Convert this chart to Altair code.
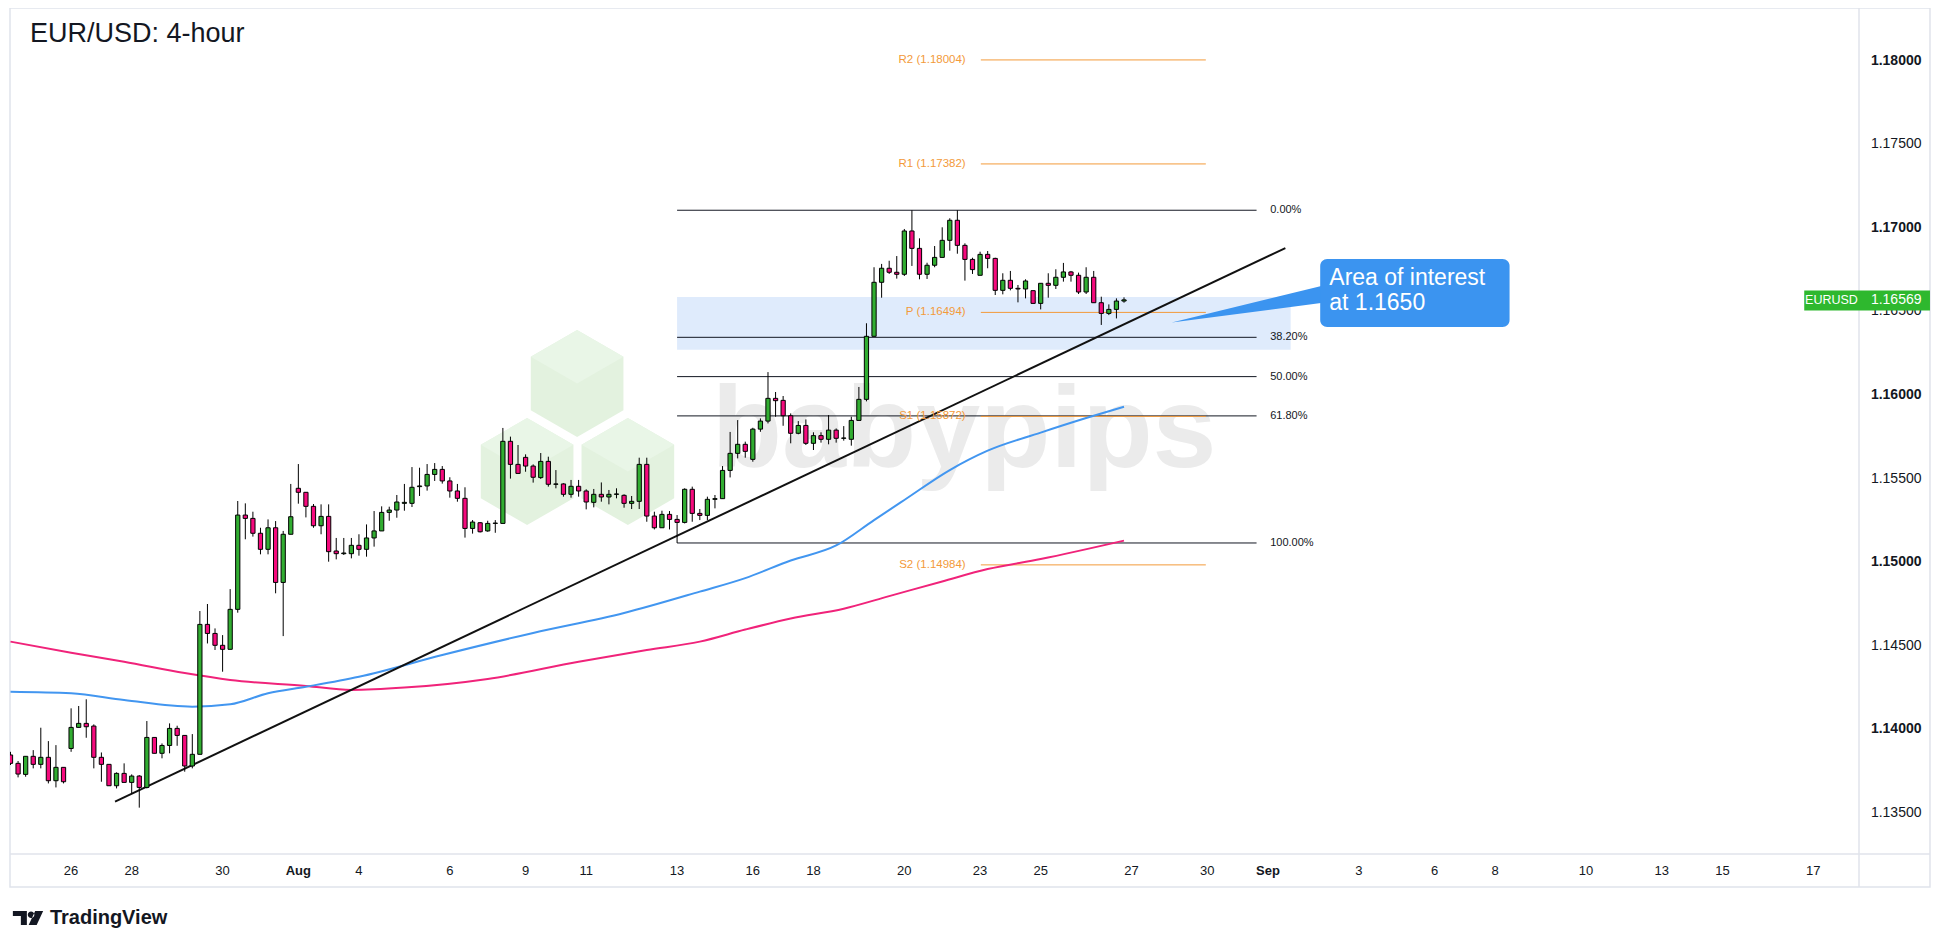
import altair as alt
import pandas as pd

# ---------------- candle data (EUR/USD 4-hour, oldest first) ----------------
opens = [
    1.13847, 1.13797, 1.13731, 1.13839, 1.13791, 1.13833, 1.13693, 1.13773, 1.13886, 1.14012,
    1.14036, 1.14020, 1.13833, 1.13791, 1.13663, 1.13737, 1.13683, 1.13721, 1.13653, 1.13952,
    1.13857, 1.13904, 1.14006, 1.13964, 1.13781, 1.13851, 1.14628, 1.14574, 1.14503, 1.14479,
    1.14718, 1.15282, 1.15262, 1.15173, 1.15077, 1.15206, 1.14879, 1.15167, 1.15442, 1.15418,
    1.15334, 1.15218, 1.15274, 1.15067, 1.15051, 1.15051, 1.15101, 1.15077, 1.15145, 1.15187,
    1.15298, 1.15312, 1.15352, 1.15352, 1.15452, 1.15456, 1.15525, 1.15555, 1.15486, 1.15426,
    1.15382, 1.15202, 1.15236, 1.15187, 1.15232, 1.15232, 1.15723, 1.15585, 1.15627, 1.15575,
    1.15506, 1.15603, 1.15466, 1.15468, 1.15406, 1.15454, 1.15426, 1.15358, 1.15406, 1.15390,
    1.15406, 1.15400, 1.15352, 1.15364, 1.15585, 1.15276, 1.15206, 1.15286, 1.15256, 1.15238,
    1.15436, 1.15292, 1.15280, 1.15376, 1.15380, 1.15549, 1.15651, 1.15705, 1.15615, 1.15796,
    1.15844, 1.15980, 1.15968, 1.15876, 1.15771, 1.15818, 1.15711, 1.15757, 1.15735, 1.15790,
    1.15741, 1.15735, 1.15848, 1.15974, 1.16351, 1.16674, 1.16758, 1.16734, 1.16722, 1.16981,
    1.16877, 1.16722, 1.16776, 1.16823, 1.16925, 1.17045, 1.16895, 1.16811, 1.16716, 1.16841,
    1.16817, 1.16626, 1.16686, 1.16638, 1.16634, 1.16624, 1.16548, 1.16668, 1.16656, 1.16704,
    1.16736, 1.16716, 1.16616, 1.16704, 1.16552, 1.16488, 1.16512, 1.16562]
highs = [
    1.13866, 1.13811, 1.13839, 1.13876, 1.14010, 1.13930, 1.13906, 1.13773, 1.14126, 1.14140,
    1.14180, 1.14030, 1.13862, 1.13791, 1.13743, 1.13797, 1.13731, 1.13727, 1.14050, 1.13952,
    1.13916, 1.14036, 1.14022, 1.13964, 1.13972, 1.14708, 1.14750, 1.14604, 1.14564, 1.14839,
    1.15366, 1.15352, 1.15302, 1.15206, 1.15256, 1.15246, 1.15187, 1.15468, 1.15587, 1.15418,
    1.15348, 1.15346, 1.15346, 1.15145, 1.15145, 1.15145, 1.15167, 1.15226, 1.15306, 1.15334,
    1.15332, 1.15402, 1.15468, 1.15569, 1.15565, 1.15587, 1.15593, 1.15575, 1.15508, 1.15468,
    1.15448, 1.15252, 1.15240, 1.15248, 1.15252, 1.15803, 1.15751, 1.15701, 1.15645, 1.15585,
    1.15653, 1.15631, 1.15551, 1.15472, 1.15492, 1.15492, 1.15436, 1.15438, 1.15477, 1.15432,
    1.15442, 1.15406, 1.15396, 1.15625, 1.15625, 1.15302, 1.15308, 1.15306, 1.15282, 1.15442,
    1.15452, 1.15318, 1.15392, 1.15402, 1.15575, 1.15779, 1.15850, 1.15721, 1.15804, 1.15860,
    1.16137, 1.16018, 1.15994, 1.15890, 1.15844, 1.15854, 1.15777, 1.15777, 1.15880, 1.15800,
    1.15814, 1.15870, 1.16048, 1.16429, 1.16764, 1.16784, 1.16803, 1.16831, 1.16993, 1.17105,
    1.16937, 1.16791, 1.16891, 1.17003, 1.17057, 1.17105, 1.16907, 1.16821, 1.16857, 1.16861,
    1.16821, 1.16728, 1.16742, 1.16658, 1.16692, 1.16624, 1.16668, 1.16728, 1.16752, 1.16790,
    1.16742, 1.16732, 1.16764, 1.16742, 1.16588, 1.16542, 1.16578, 1.16584]
lows = [
    1.13787, 1.13713, 1.13717, 1.13767, 1.13767, 1.13677, 1.13653, 1.13677, 1.13866, 1.14012,
    1.13950, 1.13767, 1.13687, 1.13663, 1.13647, 1.13683, 1.13617, 1.13532, 1.13647, 1.13857,
    1.13827, 1.13857, 1.13902, 1.13747, 1.13767, 1.13851, 1.14514, 1.14475, 1.14345, 1.14479,
    1.14698, 1.15137, 1.15153, 1.15047, 1.15047, 1.14814, 1.14558, 1.15167, 1.15350, 1.15268,
    1.15206, 1.15167, 1.15003, 1.15017, 1.15043, 1.15023, 1.15039, 1.15033, 1.15093, 1.15187,
    1.15248, 1.15266, 1.15308, 1.15330, 1.15396, 1.15428, 1.15486, 1.15470, 1.15386, 1.15362,
    1.15147, 1.15171, 1.15178, 1.15182, 1.15176, 1.15232, 1.15500, 1.15531, 1.15541, 1.15476,
    1.15498, 1.15452, 1.15442, 1.15392, 1.15386, 1.15392, 1.15316, 1.15328, 1.15362, 1.15346,
    1.15382, 1.15326, 1.15318, 1.15318, 1.15242, 1.15196, 1.15206, 1.15196, 1.15115, 1.15232,
    1.15242, 1.15252, 1.15252, 1.15322, 1.15380, 1.15507, 1.15621, 1.15625, 1.15601, 1.15780,
    1.15830, 1.15870, 1.15816, 1.15711, 1.15765, 1.15701, 1.15671, 1.15715, 1.15705, 1.15715,
    1.15727, 1.15697, 1.15848, 1.15962, 1.16351, 1.16582, 1.16724, 1.16696, 1.16712, 1.16772,
    1.16692, 1.16694, 1.16764, 1.16823, 1.16863, 1.16845, 1.16684, 1.16724, 1.16716, 1.16758,
    1.16598, 1.16602, 1.16626, 1.16554, 1.16578, 1.16548, 1.16512, 1.16582, 1.16634, 1.16678,
    1.16678, 1.16604, 1.16604, 1.16552, 1.16419, 1.16478, 1.16458, 1.16552]
closes = [
    1.13797, 1.13733, 1.13839, 1.13791, 1.13833, 1.13693, 1.13773, 1.13687, 1.14012, 1.14036,
    1.14016, 1.13833, 1.13791, 1.13663, 1.13737, 1.13683, 1.13721, 1.13653, 1.13952, 1.13857,
    1.13904, 1.14006, 1.13964, 1.13781, 1.13851, 1.14628, 1.14574, 1.14503, 1.14479, 1.14718,
    1.15282, 1.15262, 1.15173, 1.15077, 1.15206, 1.14879, 1.15167, 1.15272, 1.15418, 1.15334,
    1.15218, 1.15274, 1.15063, 1.15051, 1.15055, 1.15101, 1.15077, 1.15145, 1.15187, 1.15298,
    1.15312, 1.15360, 1.15358, 1.15448, 1.15456, 1.15525, 1.15555, 1.15486, 1.15426, 1.15382,
    1.15202, 1.15240, 1.15182, 1.15232, 1.15234, 1.15723, 1.15585, 1.15531, 1.15575, 1.15508,
    1.15603, 1.15466, 1.15468, 1.15406, 1.15454, 1.15426, 1.15360, 1.15406, 1.15390, 1.15406,
    1.15408, 1.15352, 1.15364, 1.15585, 1.15276, 1.15206, 1.15286, 1.15256, 1.15238, 1.15436,
    1.15292, 1.15280, 1.15376, 1.15380, 1.15549, 1.15651, 1.15705, 1.15663, 1.15796, 1.15844,
    1.15980, 1.15966, 1.15876, 1.15771, 1.15818, 1.15711, 1.15757, 1.15735, 1.15790, 1.15741,
    1.15743, 1.15848, 1.15974, 1.16351, 1.16674, 1.16758, 1.16734, 1.16722, 1.16981, 1.16877,
    1.16722, 1.16776, 1.16823, 1.16925, 1.17045, 1.16895, 1.16811, 1.16750, 1.16841, 1.16817,
    1.16626, 1.16686, 1.16638, 1.16634, 1.16682, 1.16548, 1.16668, 1.16656, 1.16704, 1.16736,
    1.16716, 1.16616, 1.16704, 1.16552, 1.16488, 1.16512, 1.16562, 1.16569]

# moving averages (bar index, value)
ma_slow_k = [0, 8, 15, 23, 29, 39, 45, 52, 63, 75, 84, 91, 97, 103, 110, 116, 123, 129, 136, 147]
ma_slow_v = [1.14525, 1.14459, 1.14405, 1.14337, 1.14296, 1.14260, 1.14236, 1.14250, 1.14302, 1.14405,
             1.14475, 1.14525, 1.14597, 1.14663, 1.14722, 1.14797, 1.14885, 1.14959, 1.15019, 1.15129]
ma_fast_k = [0, 8, 15, 24, 29, 34, 39, 46, 57, 69, 81, 91, 97, 103, 109, 114, 118, 124, 129, 136, 142, 147]
ma_fast_v = [1.14225, 1.14216, 1.14176, 1.14136, 1.14150, 1.14216, 1.14255, 1.14315, 1.14445, 1.14577,
             1.14696, 1.14824, 1.14905, 1.15010, 1.15100, 1.15252, 1.15372, 1.15551, 1.15667, 1.15775,
             1.15862, 1.15930]

trend_k = [13.8, 168.3]
trend_v = [1.13568, 1.16879]

fib_levels = [1.17105, 1.16345, 1.16110, 1.15875, 1.15115]
fib_labels = ["0.00%", "38.20%", "50.00%", "61.80%", "100.00%"]
pivot_names = ["R2", "R1", "P", "S1", "S2"]
pivot_levels = [1.18004, 1.17382, 1.16494, 1.15872, 1.14984]
zone_levels = [1.16271, 1.16586]
last_price = 1.16569

date_pos = [8, 16, 28, 38, 46, 58, 68, 76, 88, 98, 106, 118, 128, 136, 148, 158, 166, 178, 188, 196, 208, 218, 226, 238]
date_labels = ["26", "28", "30", "Aug", "4", "6", "9", "11", "13", "16", "18", "20", "23", "25",
               "27", "30", "Sep", "3", "6", "8", "10", "13", "15", "17"]
price_ticks = [1.135, 1.14, 1.145, 1.15, 1.155, 1.16, 1.165, 1.17, 1.175, 1.18]

# ---------------- styling ----------------
GREEN = "#31ad31"
PINK = "#f50a7d"
BLUE_MA = "#4296f0"
PINK_MA = "#f0237a"
ORANGE = "#f39a3a"
INK = "#131722"
FONT = "Liberation Sans"

XMIN, XMAX = -0.066, 244.03
YMIN, YMAX = 1.132548, 1.183146
XS = alt.Scale(domain=[XMIN, XMAX], nice=False, zero=False)
YS = alt.Scale(domain=[YMIN, YMAX], nice=False, zero=False)
DATE_ROW = 1.13153      # level of the date-label row (below the plot)
PRICE_COL = 245.6       # bar position of the price-label column (right of the plot)
FOOT_ROW = 1.12872      # level of the TradingView footer


def X(f):
    return alt.X(f, type="quantitative", scale=XS, axis=None)


def Y(f):
    return alt.Y(f, type="quantitative", scale=YS, axis=None)


candles = pd.DataFrame({"k": list(range(len(opens))), "open": opens, "high": highs,
                        "low": lows, "close": closes})
candles["dir"] = ["up" if c >= o else "down" for o, c in zip(opens, closes)]

# ---------------- layers ----------------
frame = alt.Chart(pd.DataFrame({"a": [XMIN], "b": [253.4], "c": [1.13057], "d": [YMAX]})).mark_rect(
    fillOpacity=0, stroke="#e0e3eb", strokeWidth=1.5, clip=False).encode(
    x=X("a"), x2=alt.X2("b"), y=Y("c"), y2=alt.Y2("d"))

hex_df = pd.DataFrame({"k": [74.8, 68.2, 81.5], "v": [1.16069, 1.15542, 1.15542]})
HEX = "M0,-1L0.866,-0.5L0.866,0.5L0,1L-0.866,0.5L-0.866,-0.5Z"
TOP = "M0,-1L0.866,-0.5L0,0L-0.866,-0.5Z"
hexes = alt.Chart(hex_df).mark_point(shape=HEX, size=11449, filled=True, color="#e3f2df",
                                     opacity=1, strokeWidth=0).encode(x=X("k"), y=Y("v"))
hex_tops = alt.Chart(hex_df).mark_point(shape=TOP, size=11449, filled=True, color="#e9f6e7",
                                        opacity=1, strokeWidth=0).encode(x=X("k"), y=Y("v"))
watermark = alt.Chart(pd.DataFrame({"k": [125.9], "v": [1.15569], "t": ["babypips"]})).mark_text(
    font=FONT, fontWeight="bold", fontSize=115, color="#ebebeb", align="center",
    baseline="alphabetic").encode(x=X("k"), y=Y("v"), text="t:N")

zone = alt.Chart(pd.DataFrame({"a": [88.0], "b": [169.0], "c": [zone_levels[0]], "d": [zone_levels[1]]})).mark_rect(
    color="#dfebfc").encode(x=X("a"), x2=alt.X2("b"), y=Y("c"), y2=alt.Y2("d"))

fib_df = pd.DataFrame({"lvl": fib_levels, "lab": fib_labels, "a": 88.0, "b": 164.5, "t": 166.3})
fib_lines = alt.Chart(fib_df).mark_rule(color=INK, strokeWidth=1).encode(
    x=X("a"), x2=alt.X2("b"), y=Y("lvl"))
fib_text = alt.Chart(fib_df).mark_text(align="left", baseline="middle", fontSize=11, font=FONT,
                                       color=INK).encode(x=X("t"), y=Y("lvl"), text="lab:N")

piv_df = pd.DataFrame({"lvl": pivot_levels,
                       "lab": ["%s (%.5f)" % (n, v) for n, v in zip(pivot_names, pivot_levels)],
                       "a": 128.1, "b": 157.8, "t": 126.1})
piv_lines = alt.Chart(piv_df).mark_rule(color=ORANGE, strokeWidth=1).encode(
    x=X("a"), x2=alt.X2("b"), y=Y("lvl"))
piv_text = alt.Chart(piv_df).mark_text(align="right", baseline="middle", fontSize=11.5, font=FONT,
                                       color=ORANGE).encode(x=X("t"), y=Y("lvl"), text="lab:N")

ma_slow = alt.Chart(pd.DataFrame({"k": ma_slow_k, "v": ma_slow_v})).mark_line(
    color=PINK_MA, strokeWidth=2, interpolate="monotone", clip=True).encode(x=X("k"), y=Y("v"))
ma_fast = alt.Chart(pd.DataFrame({"k": ma_fast_k, "v": ma_fast_v})).mark_line(
    color=BLUE_MA, strokeWidth=2, interpolate="monotone", clip=True).encode(x=X("k"), y=Y("v"))
trend = alt.Chart(pd.DataFrame({"k": trend_k, "v": trend_v})).mark_line(
    color="#111111", strokeWidth=2).encode(x=X("k"), y=Y("v"))

wicks = alt.Chart(candles).mark_rule(color="#000000", strokeWidth=1, clip=True).encode(
    x=X("k"), y=Y("low"), y2=alt.Y2("high"))
bodies = alt.Chart(candles).transform_calculate(
    xa="datum.k - 0.28", xb="datum.k + 0.28").mark_rect(
    stroke="#000000", strokeWidth=1, clip=True).encode(
    x=X("xa"), x2=alt.X2("xb"), y=Y("open"), y2=alt.Y2("close"),
    color=alt.Color("dir:N", scale=alt.Scale(domain=["up", "down"], range=[GREEN, PINK]), legend=None))

# callout
pointer = alt.Chart(pd.DataFrame({"k": [153.3, 174.0], "lo": [1.16433, 1.16556],
                                  "hi": [1.16433, 1.16662]})).mark_area(color="#3b94f0").encode(
    x=X("k"), y=Y("lo"), y2=alt.Y2("hi"))
box = alt.Chart(pd.DataFrame({"a": [172.9], "b": [197.9], "c": [1.16407], "d": [1.16813]})).mark_rect(
    color="#3b94f0", cornerRadius=7).encode(x=X("a"), x2=alt.X2("b"), y=Y("c"), y2=alt.Y2("d"))
box_text = alt.Chart(pd.DataFrame({"k": [174.1, 174.1], "v": [1.16700, 1.16550],
                                   "t": ["Area of interest", "at 1.1650"]})).mark_text(
    align="left", baseline="middle", fontSize=23, font=FONT, color="white").encode(
    x=X("k"), y=Y("v"), text="t:N")

# axis frame lines
x_line = alt.Chart(pd.DataFrame({"a": [XMIN], "b": [253.4], "v": [YMIN]})).mark_rule(
    color="#e0e3eb", strokeWidth=1.5, clip=False).encode(x=X("a"), x2=alt.X2("b"), y=Y("v"))
y_line = alt.Chart(pd.DataFrame({"k": [XMAX], "c": [1.13057], "d": [YMAX]})).mark_rule(
    color="#e0e3eb", strokeWidth=1.5, clip=False).encode(x=X("k"), y=Y("c"), y2=alt.Y2("d"))

# price scale labels (bold on whole cents)
price_df = pd.DataFrame({"v": price_ticks, "k": PRICE_COL,
                         "t": ["%.5f" % p for p in price_ticks],
                         "major": [round(p * 1000) % 10 == 0 for p in price_ticks]})
price_major = alt.Chart(price_df[price_df.major]).mark_text(
    align="left", baseline="middle", fontSize=14, font=FONT, fontWeight="bold", color=INK,
    clip=False).encode(x=X("k"), y=Y("v"), text="t:N")
price_minor = alt.Chart(price_df[~price_df.major]).mark_text(
    align="left", baseline="middle", fontSize=14, font=FONT, color=INK,
    clip=False).encode(x=X("k"), y=Y("v"), text="t:N")

# time scale labels (month names bold)
date_df = pd.DataFrame({"k": date_pos, "t": date_labels, "v": DATE_ROW})
date_df["month"] = date_df.t.isin(["Aug", "Sep"])
date_major = alt.Chart(date_df[date_df.month]).mark_text(
    align="center", baseline="middle", fontSize=13, font=FONT, fontWeight="bold", color=INK,
    clip=False).encode(x=X("k"), y=Y("v"), text="t:N")
date_minor = alt.Chart(date_df[~date_df.month]).mark_text(
    align="center", baseline="middle", fontSize=13, font=FONT, color=INK,
    clip=False).encode(x=X("k"), y=Y("v"), text="t:N")

# last price tag
tag_name = alt.Chart(pd.DataFrame({"a": [236.8], "b": [XMAX], "c": [last_price - 0.00064],
                                   "d": [last_price + 0.00056]})).mark_rect(
    color="#2eb82e", clip=False).encode(x=X("a"), x2=alt.X2("b"), y=Y("c"), y2=alt.Y2("d"))
tag_price = alt.Chart(pd.DataFrame({"a": [XMAX], "b": [253.4], "c": [last_price - 0.00064],
                                    "d": [last_price + 0.00056]})).mark_rect(
    color="#2eb82e", clip=False).encode(x=X("a"), x2=alt.X2("b"), y=Y("c"), y2=alt.Y2("d"))
tag_sym = alt.Chart(pd.DataFrame({"k": [240.4], "v": [last_price], "t": ["EURUSD"]})).mark_text(
    align="center", baseline="middle", fontSize=12.5, font=FONT, color="white", clip=False).encode(
    x=X("k"), y=Y("v"), text="t:N")
tag_val = alt.Chart(pd.DataFrame({"k": [PRICE_COL], "v": [last_price], "t": ["%.5f" % last_price]})).mark_text(
    align="left", baseline="middle", fontSize=14, font=FONT, color="white", clip=False).encode(
    x=X("k"), y=Y("v"), text="t:N")

# title and footer logo
title = alt.Chart(pd.DataFrame({"k": [2.57], "v": [1.18159], "t": ["EUR/USD: 4-hour"]})).mark_text(
    align="left", baseline="middle", fontSize=27, font=FONT, color=INK).encode(
    x=X("k"), y=Y("v"), text="t:N")
LOGO = ("M-14.3,-7L-0.3,-7L-0.3,7L-6.3,7L-6.3,-2L-14.3,-2Z"
        "M0.6,-3.2a3.3,3.3 0 1,0 6.6,0a3.3,3.3 0 1,0 -6.6,0Z"
        "M8,-7L16,-7L9.5,7L1.5,7Z")
logo_mark = alt.Chart(pd.DataFrame({"k": [2.2], "v": [FOOT_ROW]})).mark_point(
    shape=LOGO, size=4, filled=True, color="#131722", opacity=1, strokeWidth=0, clip=False).encode(
    x=X("k"), y=Y("v"))
logo_text = alt.Chart(pd.DataFrame({"k": [5.2], "v": [FOOT_ROW], "t": ["TradingView"]})).mark_text(
    align="left", baseline="middle", fontSize=20, font=FONT, fontWeight="bold", color="#131722",
    clip=False).encode(x=X("k"), y=Y("v"), text="t:N")

chart = alt.layer(
    frame, hexes, hex_tops, watermark, zone, fib_lines, piv_lines, ma_slow, ma_fast, trend,
    wicks, bodies, fib_text, piv_text, pointer, box, box_text, x_line, y_line,
    price_major, price_minor, date_major, date_minor,
    tag_name, tag_price, tag_sym, tag_val, title, logo_mark, logo_text
).properties(
    width=1849, height=846,
    padding={"left": 2, "top": 0, "right": 73, "bottom": 80},
    autosize=alt.AutoSizeParams(type="none"),
    background="white",
).configure_view(strokeWidth=0)

chart.save("out.html", embed_options={"renderer": "svg", "actions": False})
